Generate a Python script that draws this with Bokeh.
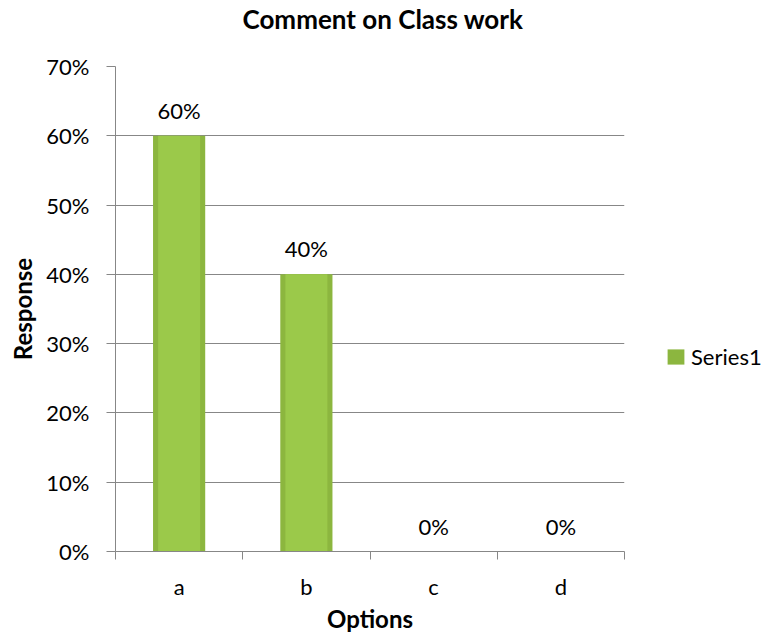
from bokeh.plotting import figure
from bokeh.models import (ColumnDataSource, FixedTicker, NumeralTickFormatter, LabelSet,
                          Legend, LegendItem, Range1d, LinearAxis)
from bokeh.core.properties import value
from bokeh.embed import file_html
from bokeh.resources import INLINE

# ---- data ----
categories = ["a", "b", "c", "d"]
values = [0.60, 0.40, 0.0, 0.0]
value_labels = ["60%", "40%", "0%", "0%"]
y_ticks = [0.0, 0.1, 0.2, 0.3, 0.4, 0.5, 0.6, 0.7]
series_name = "Series1"
title_text = "Comment on Class work"
x_title = "Options"
y_title = "Response"

FONT = "Lato"
GRID = "#878787"

xs = [i + 0.5 for i in range(len(categories))]
src = ColumnDataSource(dict(x=xs, top=values, label=value_labels))

p = figure(frame_width=509, frame_height=485,
           x_range=Range1d(0, len(categories)), y_range=Range1d(0, y_ticks[-1]),
           output_backend="svg", toolbar_location=None,
           min_border_left=115, min_border_right=142,
           min_border_top=66, min_border_bottom=76)
p.outline_line_color = None
p.background_fill_color = "white"
p.border_fill_color = "white"

# grid
p.xgrid.visible = False
p.ygrid.ticker = FixedTicker(ticks=y_ticks)
p.ygrid.grid_line_color = GRID
p.ygrid.grid_line_width = 1

# y axis
ya = p.left[0]
ya.ticker = FixedTicker(ticks=y_ticks)
ya.formatter = NumeralTickFormatter(format="0%")
ya.axis_line_color = GRID
ya.major_tick_line_color = GRID
ya.major_tick_out = 9
ya.major_tick_in = 0
ya.minor_tick_line_color = None
ya.major_label_standoff = 17
ya.major_label_text_font = FONT
ya.major_label_text_font_size = "22px"
ya.major_label_text_color = "black"
ya.axis_label = y_title
ya.axis_label_text_font = FONT
ya.axis_label_text_font_style = "bold"
ya.axis_label_text_font_size = "24px"
ya.axis_label_text_color = "black"
ya.axis_label_standoff = 6

# x axis (below)
xa = p.below[0]
xa.ticker = FixedTicker(ticks=xs, minor_ticks=list(range(len(categories) + 1)))
xa.major_label_overrides = {x: c for x, c in zip(xs, categories)}
xa.axis_line_color = GRID
xa.major_tick_line_color = None
xa.major_tick_out = 0
xa.major_tick_in = 0
xa.minor_tick_line_color = GRID
xa.minor_tick_out = 8
xa.minor_tick_in = 0
xa.major_label_standoff = 13
xa.major_label_text_font = FONT
xa.major_label_text_font_size = "22px"
xa.major_label_text_color = "black"
xa.axis_label = x_title
xa.axis_label_text_font = FONT
xa.axis_label_text_font_style = "bold"
xa.axis_label_text_font_size = "24px"
xa.axis_label_text_color = "black"
xa.axis_label_standoff = 1

# title (outermost above); an invisible spacer axis sits between it and the frame
p.title.text = title_text
p.title.align = "left"
p.title.offset = 127
p.title.standoff = 0
p.title.vertical_align = "top"
p.title.text_font = FONT
p.title.text_font_style = "bold"
p.title.text_font_size = "26px"
p.title.text_color = "black"

spacer = LinearAxis(ticker=FixedTicker(ticks=[xs[0]]), major_label_overrides={xs[0]: ""},
                    axis_line_color=None, major_tick_line_color=None,
                    minor_tick_line_color=None, major_tick_out=30, major_tick_in=0,
                    minor_tick_out=0, minor_tick_in=0, major_label_standoff=0,
                    major_label_text_font_size="1px", major_label_text_alpha=0)
p.add_layout(spacer, "above")

# bars (darker edge + lighter core)
outer = p.vbar(x="x", top="top", bottom=0, width=0.41, source=src,
               fill_color="#8cb63f", line_color=None)
p.vbar(x="x", top="top", bottom=0, width=0.33, source=src,
       fill_color="#9bc94a", line_color=None)

# data labels
p.add_layout(LabelSet(x="x", y="top", text="label", source=src, y_offset=17,
                      text_align="center", text_baseline="alphabetic",
                      text_font=value(FONT), text_font_size="22px", text_color="black"))

# legend (right panel)
legend = Legend(items=[LegendItem(label=series_name, renderers=[outer])],
                location=(41, 181), glyph_width=21, glyph_height=19,
                label_standoff=5, padding=0, margin=0, spacing=0,
                border_line_color=None, background_fill_alpha=0,
                label_text_font=FONT, label_text_font_size="22px",
                label_text_color="black")
p.add_layout(legend, "right")

open("out.html", "w").write(file_html(p, INLINE))
